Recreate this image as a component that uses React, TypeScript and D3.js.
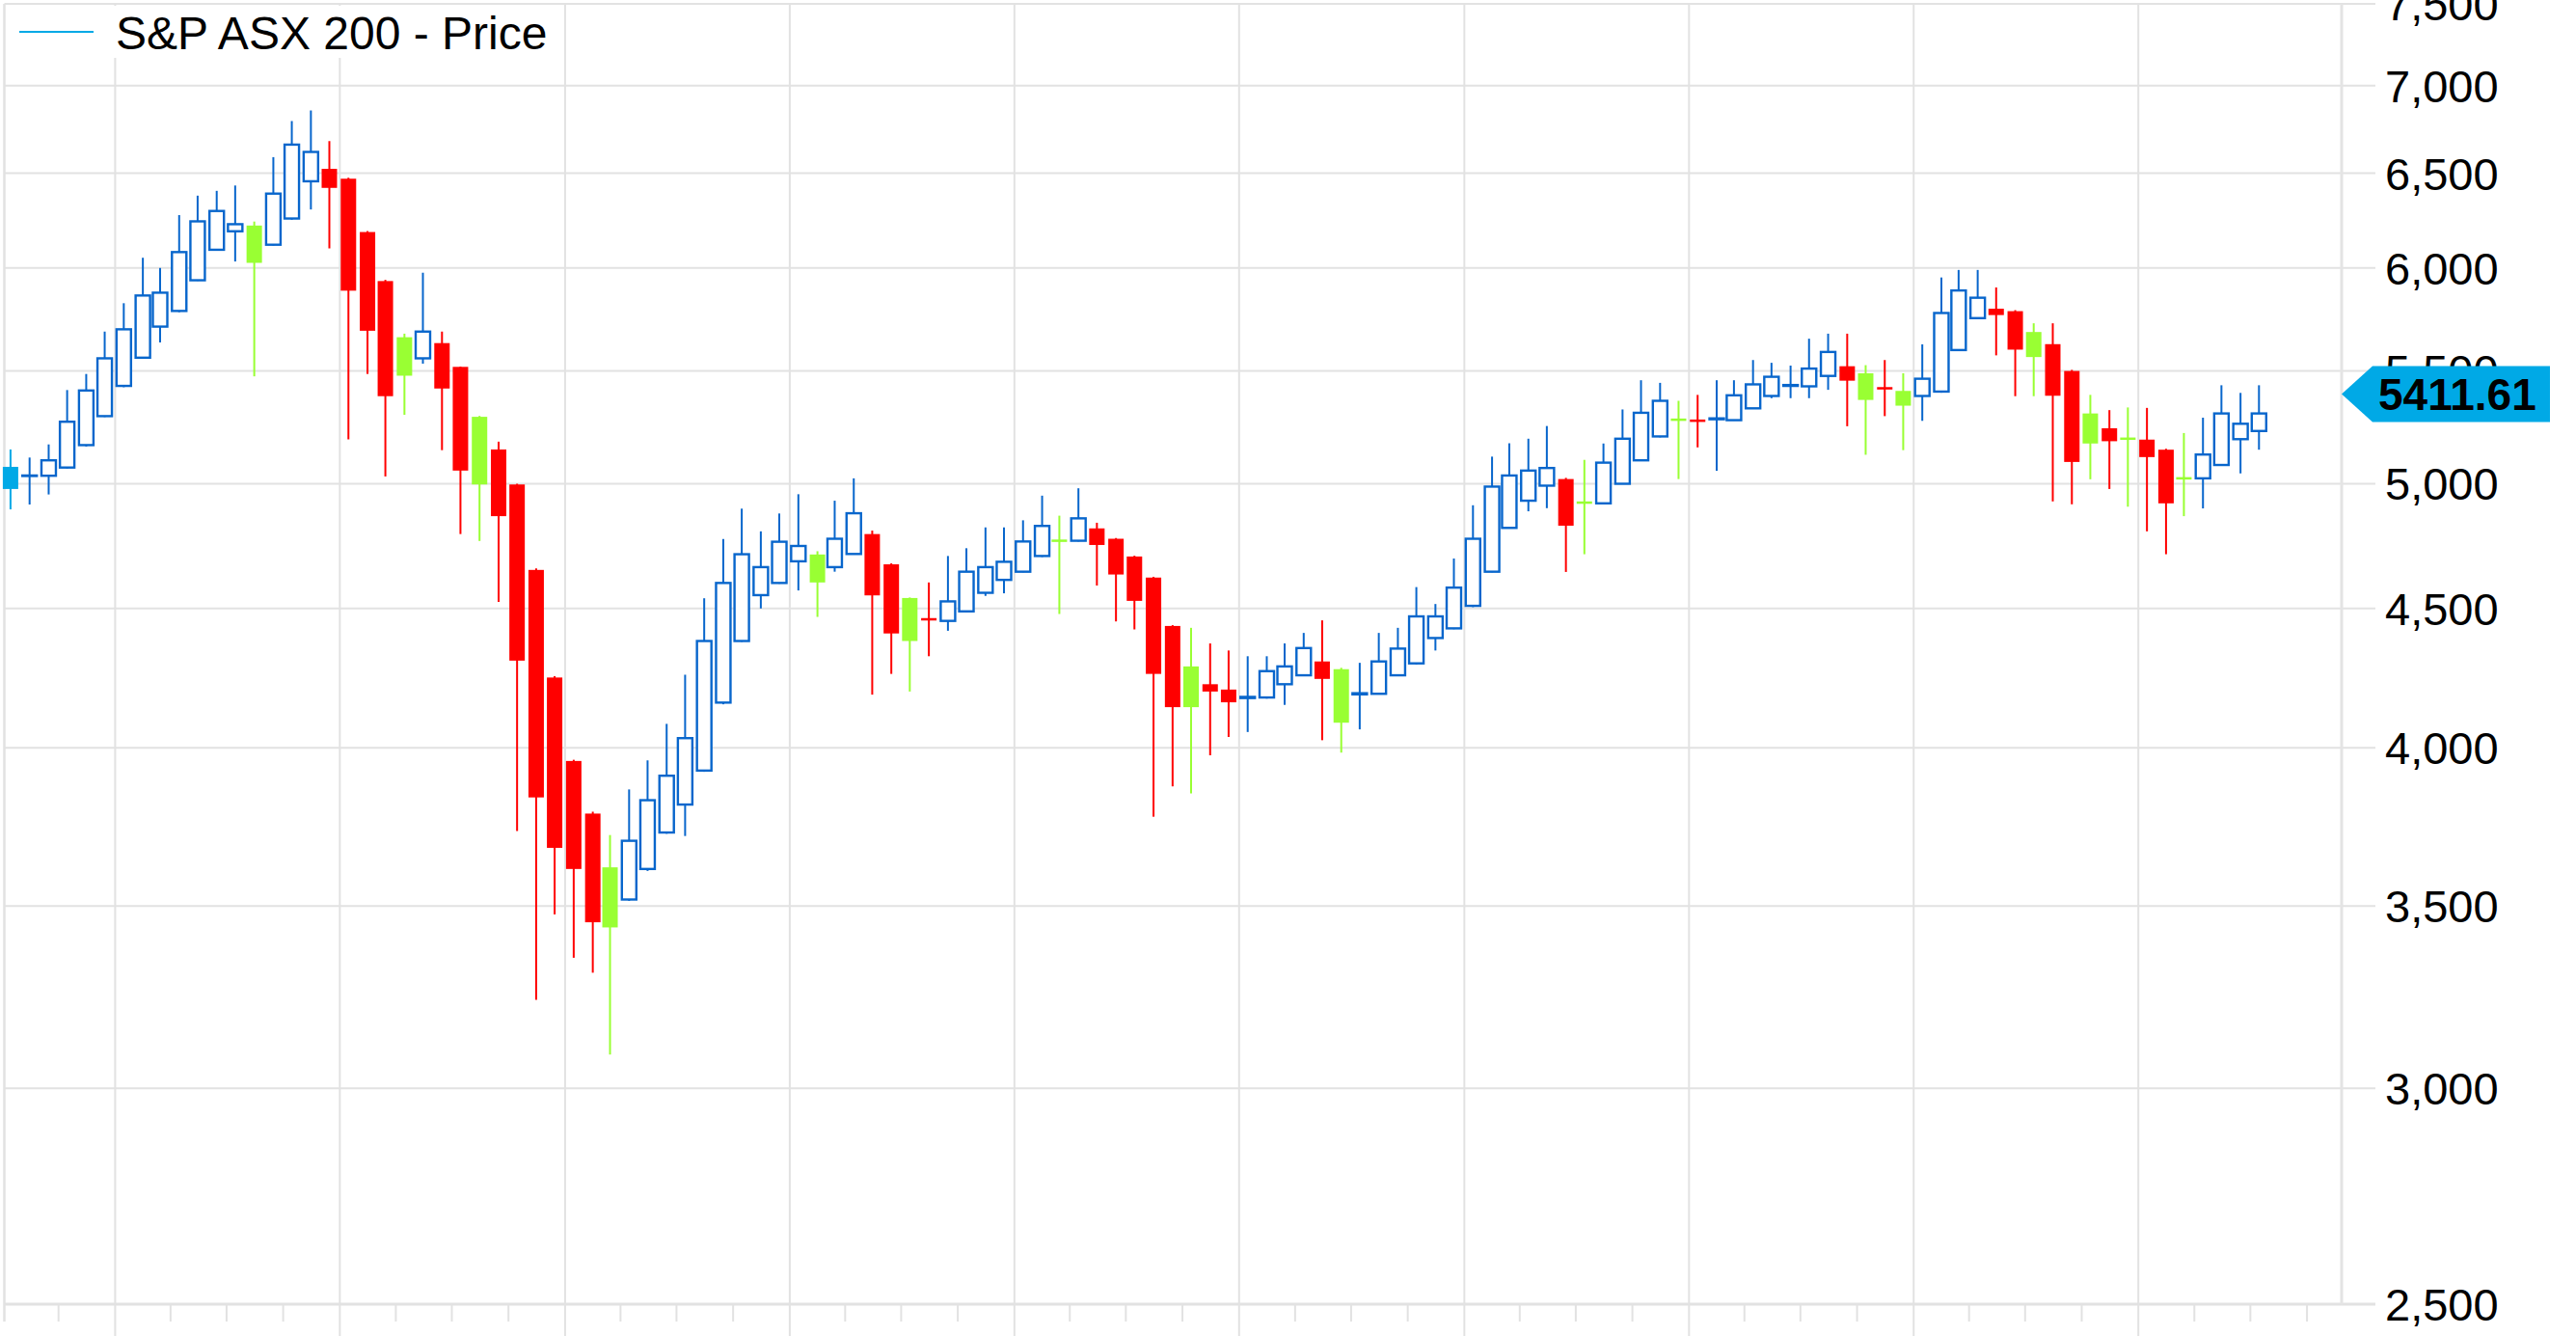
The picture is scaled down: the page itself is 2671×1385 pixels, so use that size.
import React from 'react';
import * as d3 from 'd3';

// Monthly candles, July 2006 .. July 2016
const startYear = 2006;
const startMonth = 6; // July (0-based)

const opens = [
  4978, 5033, 5034, 5069, 5166, 5294, 5431, 5562, 5710, 5786, 5938, 6093, 6189, 6219, 6119, 6256, 6456, 6524, 6470, 6185,
  5934, 5659, 5559, 5631, 5519, 5291, 5147, 4997, 4649, 4245, 3956, 3784, 3616, 3519, 3611, 3724, 3813, 3924, 4156, 4378,
  4551, 4598, 4683, 4710, 4660, 4712, 4792, 4671, 4540, 4460, 4453, 4489, 4560, 4610, 4642, 4704, 4767, 4765, 4815, 4773,
  4702, 4619, 4434, 4285, 4221, 4202, 4172, 4174, 4221, 4253, 4303, 4275, 4185, 4187, 4253, 4296, 4389, 4425, 4510, 4642,
  4817, 4929, 4992, 5020, 4923, 4918, 5000, 5100, 5204, 5280, 5275, 5280, 5276, 5329, 5385, 5431, 5429, 5477, 5522, 5489,
  5422, 5408, 5385, 5405, 5598, 5751, 5797, 5785, 5684, 5626, 5500, 5306, 5240, 5196, 5190, 5146, 5025, 5023, 5080, 5192,
  5228,
];
const highs = [
  5147, 5112, 5169, 5412, 5486, 5686, 5824, 6052, 6000, 6274, 6378, 6404, 6433, 6240, 6589, 6793, 6854, 6679, 6475, 6190,
  5940, 5676, 5976, 5686, 5520, 5295, 5181, 5000, 4655, 4250, 3960, 3790, 3716, 3862, 3958, 4082, 4255, 4539, 4772, 4896,
  4803, 4876, 4956, 4723, 4929, 5023, 4806, 4675, 4542, 4600, 4704, 4735, 4819, 4819, 4848, 4950, 4867, 4981, 4838, 4776,
  4705, 4622, 4437, 4427, 4369, 4343, 4322, 4322, 4369, 4408, 4455, 4280, 4298, 4408, 4427, 4582, 4517, 4694, 4910, 5116,
  5174, 5194, 5250, 5025, 5102, 5173, 5324, 5457, 5445, 5363, 5390, 5457, 5457, 5551, 5538, 5525, 5652, 5676, 5676, 5527,
  5551, 5489, 5625, 5952, 5990, 5990, 5902, 5790, 5726, 5726, 5505, 5390, 5321, 5333, 5331, 5150, 5219, 5287, 5434, 5399,
  5434,
];
const lows = [
  4893, 4913, 4955, 5065, 5160, 5290, 5425, 5558, 5634, 5780, 5935, 6090, 6033, 5475, 6115, 6250, 6304, 6100, 5191, 5486,
  5031, 5300, 5534, 5144, 4792, 4764, 4525, 3729, 3233, 3475, 3350, 3308, 3087, 3515, 3605, 3720, 3713, 3920, 4150, 4375,
  4500, 4595, 4569, 4468, 4642, 4710, 4184, 4258, 4195, 4322, 4416, 4485, 4548, 4558, 4640, 4700, 4479, 4762, 4588, 4451,
  4421, 3774, 3872, 3849, 3975, 4037, 4054, 4170, 4148, 4250, 4026, 3984, 4063, 4185, 4250, 4292, 4343, 4422, 4505, 4640,
  4815, 4885, 4898, 4641, 4711, 4915, 4998, 5098, 5200, 5020, 5156, 5055, 5274, 5327, 5375, 5375, 5375, 5413, 5249, 5124,
  5294, 5144, 5273, 5400, 5595, 5749, 5573, 5384, 5384, 4926, 4914, 5019, 4978, 4904, 4803, 4711, 4865, 4897, 5078, 5044,
  5146,
];
const closes = [
  5072, 5035, 5100, 5269, 5410, 5559, 5697, 5862, 5876, 6081, 6241, 6296, 6226, 6026, 6389, 6659, 6618, 6420, 5886, 5690,
  5384, 5478, 5686, 5419, 5056, 4997, 4865, 4306, 3836, 3676, 3611, 3452, 3437, 3698, 3827, 3907, 4033, 4378, 4598, 4711,
  4660, 4761, 4744, 4600, 4773, 4877, 4550, 4406, 4378, 4458, 4527, 4642, 4660, 4681, 4762, 4825, 4763, 4856, 4748, 4631,
  4529, 4258, 4140, 4140, 4195, 4157, 4176, 4268, 4285, 4352, 4240, 4086, 4189, 4303, 4350, 4470, 4470, 4580, 4773, 4988,
  5035, 5056, 5067, 4826, 4919, 5090, 5194, 5309, 5363, 5276, 5272, 5284, 5388, 5438, 5473, 5435, 5511, 5589, 5455, 5367,
  5418, 5341, 5464, 5776, 5887, 5851, 5766, 5600, 5565, 5386, 5093, 5173, 5183, 5192, 5114, 4918, 5021, 5125, 5306, 5260,
  5306,
];
// candle trend class: c = first, b = up (hollow), r = down vs previous, g = down bar but up vs previous
const trends = (
  'cbbbbbbbbbbbbgbbbrrr' +
  'rgbrrgrrrrrrgbbbbbbb' +
  'bbbgbbrrgrbbbbbbgbrr' +
  'rrrgrrbbbbrgbbbbbbbb' +
  'bbbrgbbbbgrbbbbbbbrg' +
  'rgbbbbrrgrrgrgrrgbbb' +
  'b'
).split('');

const yTickValues = [2500, 3000, 3500, 4000, 4500, 5000, 5500, 6000, 6500, 7000, 7500];
const lastPrice = 5411.61;
const seriesName = 'S&P ASX 200 - Price';

const COLORS: Record<string, string> = {
  c: '#00a9e6',
  b: '#0866cc',
  r: '#ff0000',
  g: '#99ff33',
};

export default function App() {
  const W = 2671;
  const H = 1385;
  const plotLeft = 4.5;
  const plotRight = 2428;
  const plotTop = 4;
  const plotBottom = 1352;
  const gridRight = 2463;
  const font = '"Liberation Sans", Arial, sans-serif';

  const x = d3
    .scaleUtc()
    .domain([new Date(Date.UTC(2007, 0, 1)), new Date(Date.UTC(2016, 0, 1))])
    .range([119.4, 2217.2]);
  const y = d3.scaleLog().domain([2500, 7500]).range([plotBottom, plotTop]);

  const leftDate = x.invert(plotLeft);
  const rightDate = x.invert(plotRight);
  const years = d3.utcYear.range(leftDate, rightDate);
  const quarters = d3.utcMonth
    .every(3)!
    .range(leftDate, rightDate)
    .filter((d) => d.getUTCMonth() !== 0);

  const candles = opens.map((o, i) => ({
    date: new Date(Date.UTC(startYear, startMonth + i, 15)),
    o,
    h: highs[i],
    l: lows[i],
    c: closes[i],
    t: trends[i],
  }));

  const fmt = d3.format(',');
  const bodyW = 16;
  const flagY = y(lastPrice) + 4;

  return (
    <svg
      width={W}
      height={H}
      style={{ position: 'absolute', left: 0, top: 0, background: '#fff' }}
      fontFamily={font}
    >
      <rect x={0} y={0} width={W} height={H} fill="#fff" />
      {/* horizontal grid */}
      {yTickValues.map((v) => (
        <line
          key={'h' + v}
          x1={plotLeft}
          x2={gridRight}
          y1={y(v)}
          y2={y(v)}
          stroke="#e2e2e2"
          strokeWidth={v === 2500 ? 3 : 2}
        />
      ))}
      {/* vertical year grid */}
      {years.map((d) => (
        <line
          key={'v' + d.toISOString()}
          x1={x(d)}
          x2={x(d)}
          y1={plotTop}
          y2={H}
          stroke="#e2e2e2"
          strokeWidth={2}
        />
      ))}
      {/* quarter ticks */}
      {quarters.map((d) => (
        <line
          key={'q' + d.toISOString()}
          x1={x(d)}
          x2={x(d)}
          y1={plotBottom}
          y2={1370}
          stroke="#e2e2e2"
          strokeWidth={2}
        />
      ))}
      {/* plot borders */}
      <line x1={plotLeft} x2={plotLeft} y1={plotTop} y2={1370} stroke="#e2e2e2" strokeWidth={2.5} />
      <line x1={plotRight} x2={plotRight} y1={plotTop} y2={plotBottom} stroke="#e4e4e4" strokeWidth={3} />

      {/* candles */}
      {candles.map((d, i) => {
        const cx = x(d.date);
        const col = COLORS[d.t];
        const top = y(Math.max(d.o, d.c));
        const bot = y(Math.min(d.o, d.c));
        const hollow = d.t === 'b';
        return (
          <g key={i}>
            <line x1={cx} x2={cx} y1={y(d.h)} y2={y(d.l)} stroke={col} strokeWidth={2} />
            {hollow ? (
              <rect
                x={cx - (bodyW - 1) / 2}
                y={top}
                width={bodyW - 1}
                height={Math.max(0.5, bot - top)}
                fill="#fff"
                stroke={col}
                strokeWidth={2.4}
              />
            ) : (
              <rect
                x={cx - bodyW / 2}
                y={top - (bot - top < 2.5 ? (2.5 - (bot - top)) / 2 : 0)}
                width={bodyW}
                height={Math.max(2.5, bot - top)}
                fill={col}
              />
            )}
          </g>
        );
      })}

      {/* y axis labels */}
      {yTickValues.map((v) => (
        <text key={'t' + v} x={2473} y={y(v)} dy="0.36em" fontSize={47} fill="#000">
          {fmt(v)}
        </text>
      ))}

      {/* last price flag */}
      <path
        d={`M ${plotRight} ${flagY} L 2460 ${flagY - 29} L 2644 ${flagY - 29} L 2644 ${flagY + 29} L 2460 ${flagY + 29} Z`}
        fill="#00a9e6"
      />
      <text x={2466} y={flagY} dy="0.36em" fontSize={46} fontWeight="bold" fill="#000">
        {lastPrice.toFixed(2)}
      </text>

      {/* legend */}
      <rect x={7} y={6} width={575} height={54} fill="#fff" />
      <line x1={20} x2={97} y1={33} y2={33} stroke="#00a9e6" strokeWidth={2} />
      <text x={120} y={51} fontSize={48} fill="#000">
        {seriesName}
      </text>
    </svg>
  );
}
